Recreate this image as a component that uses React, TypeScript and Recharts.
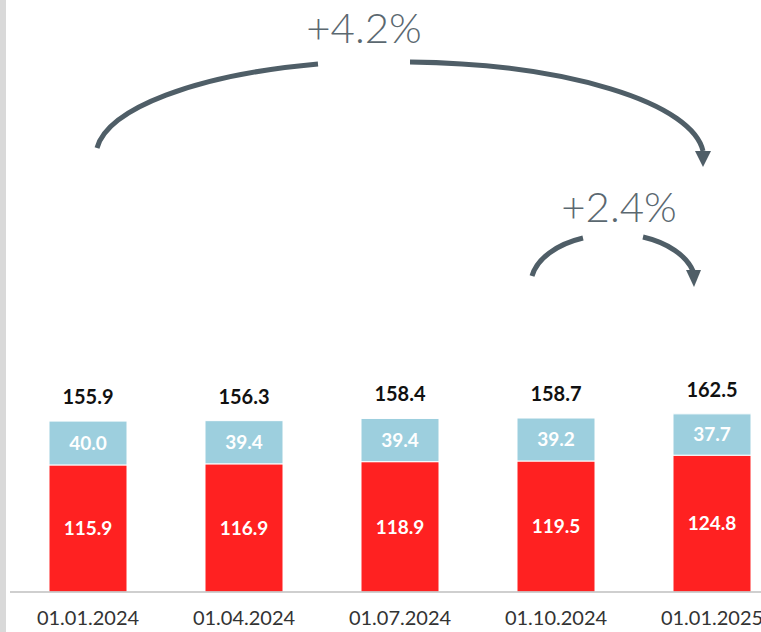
import { BarChart, Bar, XAxis, YAxis, LabelList } from 'recharts';

const dates = ['01.01.2024', '01.04.2024', '01.07.2024', '01.10.2024', '01.01.2025'];
const redValues = [115.9, 116.9, 118.9, 119.5, 124.8];
const blueValues = [40.0, 39.4, 39.4, 39.2, 37.7];
const totals = [155.9, 156.3, 158.4, 158.7, 162.5];
const growthYear = '+4.2%';
const growthQuarter = '+2.4%';

const RED = '#ff2121';
const BLUE = '#9dcfde';
const ARROW = '#4f5e67';
const FONT = 'Lato, "Open Sans", sans-serif';

const CHART_W = 790;
const CHART_H = 632;
const MARGIN_LEFT = 10;
const BAND = (CHART_W - MARGIN_LEFT) / dates.length;
// centre of category i, same as the band scale of the x axis
const cx = (i: number) => MARGIN_LEFT + BAND * (i + 0.5);

const data = dates.map((date, i) => ({
  date,
  red: redValues[i],
  blue: blueValues[i],
  total: totals[i],
}));

const fmt = (v: unknown) => Number(v).toFixed(1);

function Arrows() {
  const bigL = cx(0) + 9;
  const bigR = cx(4) - 9;
  const smallL = cx(3) - 24;
  const smallR = cx(4) - 18;
  return (
    <svg
      width={761}
      height={632}
      style={{ position: 'absolute', left: 0, top: 0, pointerEvents: 'none' }}
    >
      <g fill="none" stroke={ARROW} strokeWidth={5}>
        <path d={`M ${bigL} 148 A 305 96 0 0 1 318 64`} />
        <path d={`M 410 62 A 305 96 0 0 1 ${bigR} 151`} />
        <path d={`M ${smallL} 276 A 82 50 0 0 1 583 238`} />
        <path d={`M 643 237 A 82 50 0 0 1 ${smallR - 1} 271`} />
      </g>
      <polygon
        points={`${bigR - 8},151 ${bigR + 8},151 ${bigR},167`}
        fill={ARROW}
      />
      <polygon
        points={`${smallR - 8},270 ${smallR + 7},270 ${smallR},287`}
        fill={ARROW}
      />
      <text
        x={364}
        y={43}
        textAnchor="middle"
        fontFamily={FONT}
        fontWeight={300}
        fontSize={42}
        fill="#5b6870"
      >
        {growthYear}
      </text>
      <text
        x={619}
        y={222}
        textAnchor="middle"
        fontFamily={FONT}
        fontWeight={300}
        fontSize={42}
        fill="#5b6870"
      >
        {growthQuarter}
      </text>
    </svg>
  );
}

export default function App() {
  return (
    <div
      style={{
        position: 'absolute',
        left: 0,
        top: 0,
        width: 761,
        height: 632,
        overflow: 'hidden',
        background: '#fff',
        fontFamily: FONT,
      }}
    >
      <div
        style={{
          position: 'absolute',
          left: 0,
          top: 0,
          width: 6,
          height: 632,
          background: '#d9d9d9',
        }}
      />
      <BarChart
        width={CHART_W}
        height={CHART_H}
        data={data}
        margin={{ top: 11, right: 0, bottom: 0, left: MARGIN_LEFT }}
        barSize={78}
      >
        <XAxis
          dataKey="date"
          height={40}
          axisLine={{ stroke: '#bfbfbf', strokeWidth: 1.5 }}
          tickLine={false}
          tickSize={0}
          tickMargin={19}
          tick={{ fill: '#333', fontSize: 20, fontFamily: FONT }}
          interval={0}
        />
        <YAxis hide domain={[0, 530]} />
        <Bar
          dataKey="red"
          stackId="a"
          fill={RED}
          stroke="#fff"
          strokeWidth={1}
          isAnimationActive={false}
        >
          <LabelList
            dataKey="red"
            position="center"
            formatter={fmt}
            fill="#fff"
            fontSize={19}
            fontWeight={700}
            fontFamily={FONT}
          />
        </Bar>
        <Bar
          dataKey="blue"
          stackId="a"
          fill={BLUE}
          stroke="#fff"
          strokeWidth={1}
          isAnimationActive={false}
        >
          <LabelList
            dataKey="blue"
            position="center"
            formatter={fmt}
            fill="#fff"
            fontSize={19}
            fontWeight={700}
            fontFamily={FONT}
          />
          <LabelList
            dataKey="total"
            position="top"
            offset={17}
            formatter={fmt}
            fill="#111"
            fontSize={20}
            fontWeight={700}
            fontFamily={FONT}
          />
        </Bar>
      </BarChart>
      <Arrows />
    </div>
  );
}
